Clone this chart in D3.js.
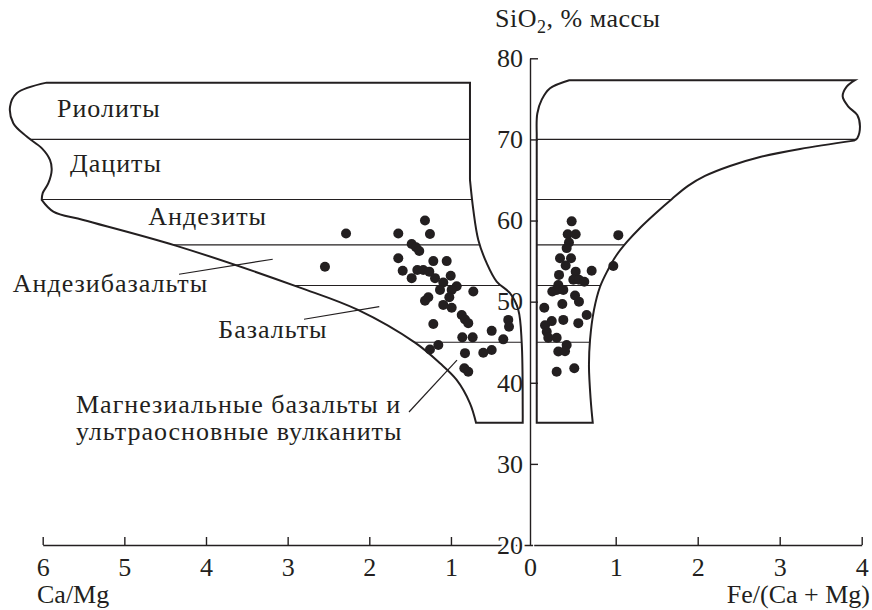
<!DOCTYPE html>
<html>
<head>
<meta charset="utf-8">
<script src="https://cdn.jsdelivr.net/npm/d3@7"></script>
<style>
  body { margin: 0; background: #fff; }
  svg text { font-family: "Liberation Serif", "Times New Roman", serif; fill: #231f20; }
</style>
</head>
<body>
<svg id="chart"></svg>
<script>
// ticks
const caMgTicks = [6, 5, 4, 3, 2, 1];
const feTicks = [0, 1, 2, 3, 4];
const siTicks = [20, 30, 40, 50, 60, 70, 80];

// samples, left panel: [Ca/Mg, SiO2]
const caMgPoints = [
  [2.285, 58.4], [1.645, 58.4], [1.318, 60.0], [1.257, 58.35], [1.481, 57.1],
  [1.428, 56.7], [1.388, 56.25], [1.645, 55.35], [1.216, 55.0], [1.052, 55.0],
  [1.591, 53.8], [1.412, 53.9], [1.339, 53.9], [1.265, 53.7], [1.481, 52.9],
  [1.195, 52.9], [1.094, 52.35], [1.003, 53.2], [1.134, 51.45], [0.930, 51.9],
  [0.991, 51.45], [0.726, 51.25], [1.020, 50.55], [1.277, 50.55], [1.318, 50.1],
  [1.094, 49.6], [0.991, 49.25], [0.868, 48.35], [0.828, 47.8], [0.788, 47.35],
  [1.216, 47.25], [0.298, 47.75], [0.289, 46.9], [0.501, 46.4], [0.861, 45.6],
  [0.734, 45.6], [0.359, 45.35], [1.155, 44.65], [1.257, 44.1], [0.501, 44.05],
  [0.604, 43.7], [0.828, 43.65], [0.836, 41.8], [0.788, 41.35], [2.543, 54.3]
];

// samples, right panel: [Fe/(Ca+Mg), SiO2]
const fePoints = [
  [0.463, 59.9], [0.415, 58.3], [0.512, 58.3], [1.032, 58.2], [0.430, 57.3],
  [0.402, 56.6], [0.321, 55.35], [0.455, 55.35], [0.390, 54.45], [0.971, 54.4],
  [0.707, 53.8], [0.309, 53.3], [0.512, 53.7], [0.483, 52.7], [0.552, 52.7],
  [0.617, 52.45], [0.300, 52.05], [0.227, 51.25], [0.280, 51.45], [0.361, 51.45],
  [0.504, 50.75], [0.552, 50.0], [0.129, 49.25], [0.349, 49.7], [0.646, 48.35],
  [0.361, 47.75], [0.220, 47.6], [0.544, 47.35], [0.138, 47.1], [0.159, 46.3],
  [0.178, 45.55], [0.280, 45.55], [0.402, 44.65], [0.300, 43.85], [0.382, 43.9],
  [0.280, 41.35], [0.495, 41.8]
];

// SiO2 borders between rock fields
const fieldLevels = [70, 62.6, 57, 52, 45];

// left field outline, Ca/Mg vs SiO2
const leftTop = [[5.951, 77], [0.767, 77]];
const leftRightStraight = [[0.767, 77], [0.767, 65.01]];
const leftRightCurve = [[0.767, 65.01], [0.726, 61.31], [0.665, 57.61], [0.562, 54.74],
  [0.440, 52.47], [0.277, 51.04], [0.175, 48.98], [0.133, 44.87], [0.121, 36.65], [0.121, 35.08]];
const leftBottom = [[0.121, 35.08], [0.693, 35.08]];
const leftLower = [[0.693, 35.08], [0.767, 37.47], [0.930, 40.35], [1.134, 42.40], [1.440, 44.94],
  [2.138, 48.98], [2.849, 51.73], [4.371, 56.91], [5.503, 60.07], [5.870, 61.10], [6.012, 62.54]];
const leftWave = [[6.012, 62.54], [6.0, 63.37], [5.931, 64.60], [5.890, 66.24], [5.911, 67.47],
  [6.012, 68.92], [6.196, 70.35], [6.360, 72.0], [6.400, 74.04], [6.318, 75.70], [5.951, 77]];

// right field outline, Fe/(Ca+Mg) vs SiO2
const rightLeftStraight = [[0.037, 35.08], [0.037, 70.75]];
const rightCorner = [[0.037, 70.75], [0.044, 73.2], [0.098, 74.9], [0.199, 76.3], [0.434, 77.3]];
const rightTop = [[0.434, 77.3], [3.918, 77.3]];
const rightWave = [[3.918, 77.3], [3.817, 76.5], [3.768, 75.3], [3.837, 74.05], [3.946, 73.0],
  [3.979, 71.6], [3.946, 70.15], [3.906, 69.85]];
const rightLower = [[3.906, 69.85], [3.248, 68.83], [2.760, 67.84], [2.394, 66.73], [2.089, 65.50],
  [1.882, 64.27], [1.686, 62.66], [1.491, 60.94], [1.308, 59.21], [1.137, 57.36], [1.003, 55.63],
  [0.905, 53.91], [0.808, 51.81], [0.735, 48.98], [0.687, 45.28], [0.674, 42.0], [0.695, 37.9],
  [0.720, 35.08]];
const rightBottom = [[0.720, 35.08], [0.037, 35.08]];

// field names and where they sit (Ca/Mg, SiO2)
const fieldNames = ['Риолиты', 'Дациты', 'Андезиты', 'Андезибазальты', 'Базальты',
  'Магнезиальные базальты и', 'ультраосновные вулканиты'];
const fieldNamePos = [[5.825, 72.77], [5.666, 66.0], [4.707, 59.46], [6.367, 51.2], [3.849, 45.49],
  [5.592, 36.31], [5.592, 32.95]];
const leaders = [
  [[4.330, 53.38], [3.183, 55.23]],
  [[2.800, 47.83], [1.878, 49.38]],
  [[1.514, 36.4], [0.926, 42.8]]
];

const width = 872, height = 610;
const ink = '#231f20';
const fs = 26;

const svg = d3.select('#chart').attr('width', width).attr('height', height);

const xL = d3.scaleLinear().domain([6, 0]).range([42.7, 532.6]);
const xR = d3.scaleLinear().domain([0, 4]).range([533.7, 861.7]);
const y = d3.scaleLinear().domain([20, 80]).range([545, 58.3]);
const yAxisX = 530;

function outline(segs, xs) {
  return segs.map((seg, i) => {
    const s = d3.line().x(d => xs(d[0])).y(d => y(d[1])).curve(seg[1])(seg[0]);
    return i === 0 ? s : s.replace(/^M/, 'L');
  }).join('') + 'Z';
}

const cr = d3.curveCatmullRom.alpha(0.5);
const leftPath = outline([
  [leftTop, d3.curveLinear], [leftRightStraight, d3.curveLinear], [leftRightCurve, cr],
  [leftBottom, d3.curveLinear], [leftLower, cr], [leftWave, cr]
], xL);
const rightPath = outline([
  [rightLeftStraight, d3.curveLinear], [rightCorner, cr], [rightTop, d3.curveLinear],
  [rightWave, cr], [rightLower, cr], [rightBottom, d3.curveLinear]
], xR);

const defs = svg.append('defs');
defs.append('clipPath').attr('id', 'clipL').append('path').attr('d', leftPath);
defs.append('clipPath').attr('id', 'clipR').append('path').attr('d', rightPath);

// field borders
svg.append('g').attr('clip-path', 'url(#clipL)')
  .selectAll('line').data(fieldLevels).join('line')
  .attr('x1', xL(6.6)).attr('x2', xL(0))
  .attr('y1', d => y(d)).attr('y2', d => y(d))
  .attr('stroke', ink).attr('stroke-width', 1.1);
svg.append('g').attr('clip-path', 'url(#clipR)')
  .selectAll('line').data(fieldLevels).join('line')
  .attr('x1', xR(0)).attr('x2', xR(4.2))
  .attr('y1', d => y(d)).attr('y2', d => y(d))
  .attr('stroke', ink).attr('stroke-width', 1.1);

svg.append('path').attr('d', leftPath).attr('fill', 'none').attr('stroke', ink).attr('stroke-width', 2);
svg.append('path').attr('d', rightPath).attr('fill', 'none').attr('stroke', ink).attr('stroke-width', 2);

// leader lines
svg.append('g').selectAll('line').data(leaders).join('line')
  .attr('x1', d => xL(d[0][0])).attr('y1', d => y(d[0][1]))
  .attr('x2', d => xL(d[1][0])).attr('y2', d => y(d[1][1]))
  .attr('stroke', ink).attr('stroke-width', 1.2);

// field names
svg.append('g').selectAll('text').data(fieldNames).join('text')
  .attr('x', (d, i) => xL(fieldNamePos[i][0]))
  .attr('y', (d, i) => y(fieldNamePos[i][1]))
  .attr('font-size', fs)
  .attr('letter-spacing', 1)
  .text(d => d);

// axes
function styleAxis(g) {
  g.attr('font-family', null).attr('font-size', null);
  g.selectAll('path, line').attr('stroke', ink).attr('stroke-width', 1.4);
  g.selectAll('text').attr('font-size', fs).attr('fill', ink);
}

svg.append('g')
  .attr('transform', `translate(0,${y(20)})`)
  .call(d3.axisBottom(xL).tickValues(caMgTicks).tickFormat(d3.format('d'))
    .tickSizeInner(-8).tickSizeOuter(0).tickPadding(13))
  .call(styleAxis);

const gR = svg.append('g')
  .attr('transform', `translate(0,${y(20)})`)
  .call(d3.axisBottom(xR).tickValues(feTicks).tickFormat(d3.format('d'))
    .tickSizeInner(-8).tickSizeOuter(0).tickPadding(13))
  .call(styleAxis);
gR.selectAll('.tick').filter(d => d === 0).select('line').remove();
gR.selectAll('.tick').filter(d => d === 0).select('text').attr('x', yAxisX - xR(0));

const gY = svg.append('g')
  .attr('transform', `translate(${yAxisX},0)`)
  .call(d3.axisLeft(y).tickValues(siTicks).tickSizeInner(-8).tickSizeOuter(0).tickPadding(7))
  .call(styleAxis);
gY.selectAll('.tick').filter(d => d === 20).select('line').remove();
gY.selectAll('.tick').filter(d => d === 20).select('text')
  .attr('stroke', '#fff').attr('stroke-width', 5).attr('paint-order', 'stroke');

// samples
svg.append('g').selectAll('circle').data(caMgPoints).join('circle')
  .attr('cx', d => xL(d[0])).attr('cy', d => y(d[1])).attr('r', 5).attr('fill', ink);
svg.append('g').selectAll('circle').data(fePoints).join('circle')
  .attr('cx', d => xR(d[0])).attr('cy', d => y(d[1])).attr('r', 5).attr('fill', ink);

// axis titles
const yTitle = svg.append('text').attr('x', 495).attr('y', 27).attr('font-size', fs).attr('letter-spacing', 0.5);
yTitle.append('tspan').text('SiO');
yTitle.append('tspan').attr('font-size', 18).attr('dy', 6).text('2');
yTitle.append('tspan').attr('dy', -6).text(', % массы');

svg.append('text').attr('x', 37).attr('y', 603).attr('font-size', fs).text('Ca/Mg');
svg.append('text').attr('x', 870).attr('y', 603).attr('font-size', fs).attr('text-anchor', 'end').text('Fe/(Ca + Mg)');
</script>
</body>
</html>
